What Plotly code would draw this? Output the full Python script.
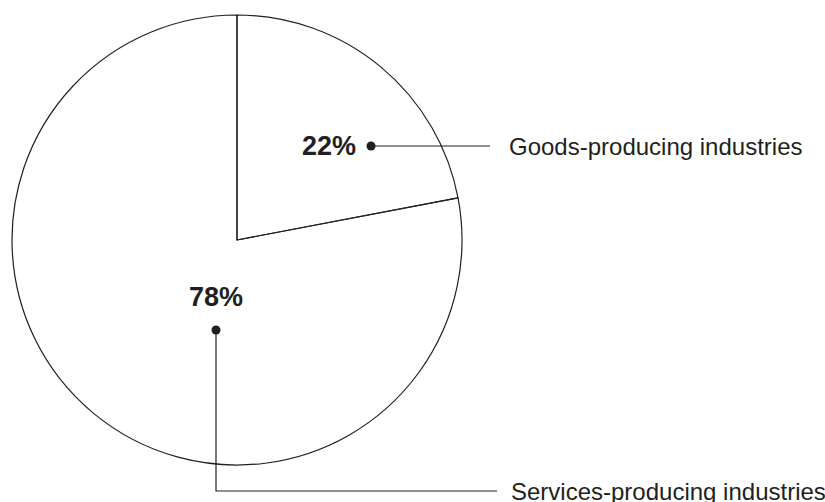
import plotly.graph_objects as go

labels = ["Goods-producing industries", "Services-producing industries"]
values = [22, 78]

W, H = 825, 502
FONT = "Liberation Sans, Arial, Helvetica, sans-serif"
INK = "#231f20"

# pie placement (pixels)
cx, cy, r = 237, 240, 225

fig = go.Figure()
fig.add_trace(go.Pie(
    labels=labels, values=values, sort=False, direction="clockwise", rotation=0,
    marker=dict(colors=["rgba(0,0,0,0)", "rgba(0,0,0,0)"], line=dict(color=INK, width=1.2)),
    textinfo="none", hoverinfo="label+percent", showlegend=False,
    domain=dict(x=[(cx - r) / W, (cx + r) / W], y=[1 - (cy + r) / H, 1 - (cy - r) / H]),
))

total = sum(values)
pcts = [f"{round(v / total * 100)}%" for v in values]

# callout geometry (pixels): pct label pos, dot pos, path, label pos
callouts = [
    dict(pct=(329, 146), dot=(371, 146), path=[(371, 146), (490, 146)], lab=(507, 146)),
    dict(pct=(216, 297), dot=(216, 330), path=[(216, 330), (216, 491), (497, 491)], lab=(509, 491)),
]

for c, lab, pct in zip(callouts, labels, pcts):
    xs = [p[0] for p in c["path"]]
    ys = [p[1] for p in c["path"]]
    fig.add_trace(go.Scatter(x=xs, y=ys, mode="lines", line=dict(color=INK, width=1.2),
                             hoverinfo="skip", showlegend=False))
    fig.add_trace(go.Scatter(x=[c["dot"][0]], y=[c["dot"][1]], mode="markers",
                             marker=dict(color=INK, size=9), hoverinfo="skip", showlegend=False))
    fig.add_annotation(x=c["pct"][0], y=c["pct"][1], text=f"<b>{pct}</b>", showarrow=False,
                       font=dict(family=FONT, size=27, color=INK), xanchor="center", yanchor="middle")
    fig.add_annotation(x=c["lab"][0], y=c["lab"][1], text=lab, showarrow=False,
                       font=dict(family=FONT, size=24, color=INK), xanchor="left", yanchor="middle")

fig.update_layout(
    width=W, height=H, margin=dict(l=0, r=0, t=0, b=0),
    paper_bgcolor="white", plot_bgcolor="rgba(0,0,0,0)",
    xaxis=dict(range=[0, W], visible=False, fixedrange=True),
    yaxis=dict(range=[H, 0], visible=False, fixedrange=True),
    showlegend=False,
)

fig.write_html("out.html", config={"displayModeBar": False},
               post_script="document.body.style.margin='0';document.body.style.overflow='hidden';")
